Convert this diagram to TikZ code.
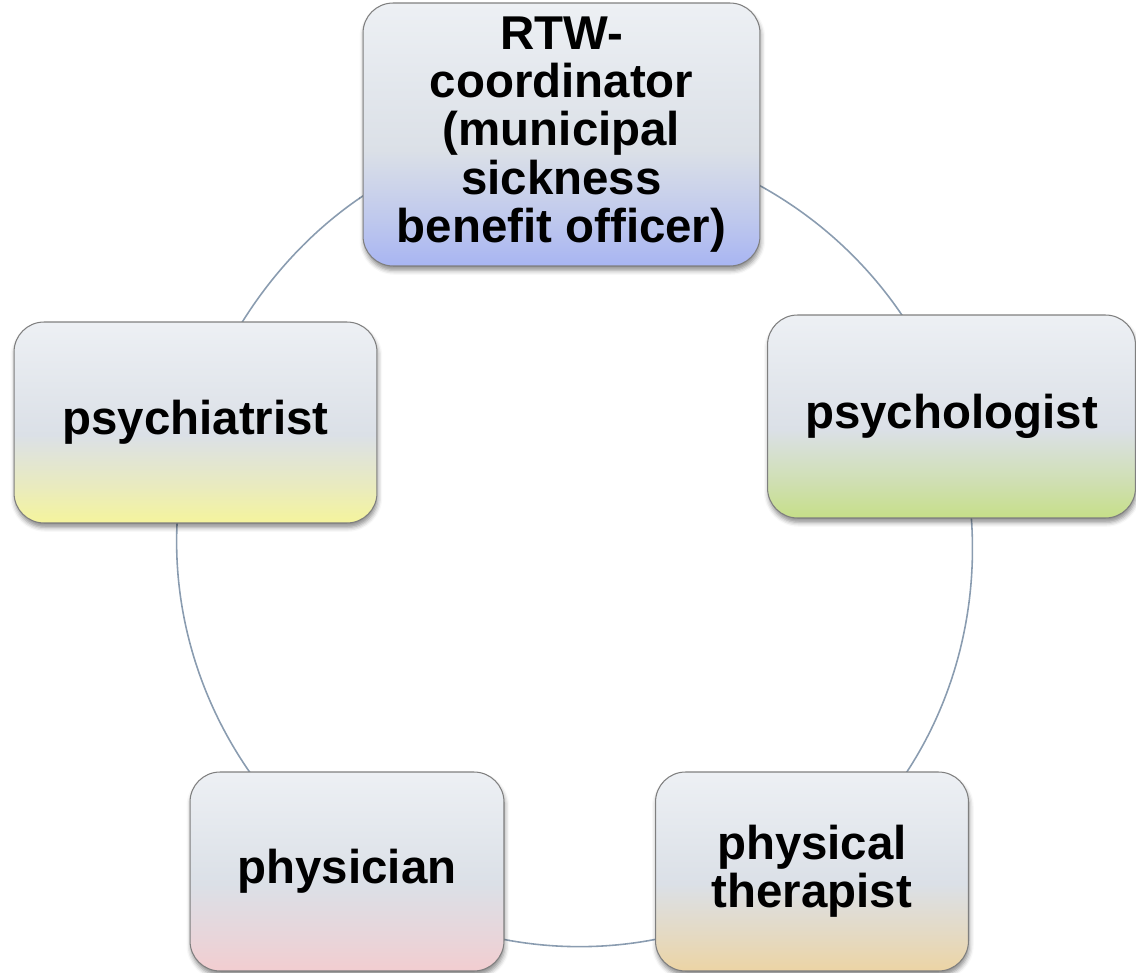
\documentclass[tikz,border=0pt]{standalone}
\usepackage{fontspec}
\setmainfont{Liberation Sans}
\usepackage{xcolor}
\definecolor{rimgray}{HTML}{7F7F7F}
\definecolor{ringline}{HTML}{8A9CB0}
\definecolor{palegray}{HTML}{EDF0F4}
\definecolor{midgray}{HTML}{DBE0E7}
\definecolor{periwinkle}{HTML}{A8B5F2}
\definecolor{pistachio}{HTML}{C6DF88}
\definecolor{lemon}{HTML}{F5F49C}
\definecolor{blush}{HTML}{F2CDD0}
\definecolor{sand}{HTML}{ECD4A4}
\usetikzlibrary{backgrounds,shadows.blur}

% gray on top, fading into a colour at the bottom
\newcommand{\roleshade}[2]{%
  \pgfdeclareverticalshading{#1}{100bp}{color(0bp)=(#2); color(25bp)=(#2);
    color(34bp)=(#2!55!midgray); color(47bp)=(midgray);
    color(75bp)=(palegray); color(100bp)=(palegray)}}
\roleshade{rtwshade}{periwinkle}
\roleshade{psychologistshade}{pistachio}
\roleshade{therapistshade}{sand}
\roleshade{physicianshade}{blush}
\roleshade{psychiatristshade}{lemon}

\tikzset{
  role/.style={rectangle, rounded corners=0.6cm, draw=rimgray, line width=0.6pt,
    align=center, inner sep=2pt,
    font=\fontsize{27}{27.5}\selectfont\bfseries,
    blur shadow={shadow xshift=0.5pt, shadow yshift=-2.5pt,
      shadow blur radius=2.5pt, shadow opacity=45}},
  ring/.style={draw=ringline, line width=0.9pt, looseness=0.94}
}

\begin{document}
\begin{tikzpicture}[x=0.02cm, y=-0.02cm]
  \useasboundingbox (0,0) rectangle (1136,973);

  % the five roles
  \node[role, shading=rtwshade, minimum width=7.94cm, minimum height=5.26cm]
    (rtw) at(561.5,134.5) {RTW-\\coordinator\\(municipal\\sickness\\benefit officer)};
  \node[role, shading=psychologistshade, minimum width=7.36cm, minimum height=4.06cm]
    (psychologist) at(951.5,416.5) {psychologist};
  \node[role, shading=therapistshade, minimum width=6.26cm, minimum height=3.98cm]
    (therapist) at(812,871.5) {physical\\therapist};
  \node[role, shading=physicianshade, minimum width=6.28cm, minimum height=3.98cm]
    (physician) at(347,871.5) {physician};
  \node[role, shading=psychiatristshade, minimum width=7.26cm, minimum height=4.02cm]
    (psychiatrist) at(195.5,422.5) {psychiatrist};

  % the cycle behind them
  \begin{scope}[on background layer]
    \draw[ring] (rtw.center) to[out=0, in=108] (psychologist.center);
    \draw[ring] (psychologist.center) to[out=-72, in=36] (therapist.center);
    \draw[ring] (therapist.center) to[out=-144, in=-36] (physician.center);
    \draw[ring] (physician.center) to[out=144, in=-108] (psychiatrist.center);
    \draw[ring] (psychiatrist.center) to[out=72, in=180] (rtw.center);
  \end{scope}
\end{tikzpicture}
\end{document}
